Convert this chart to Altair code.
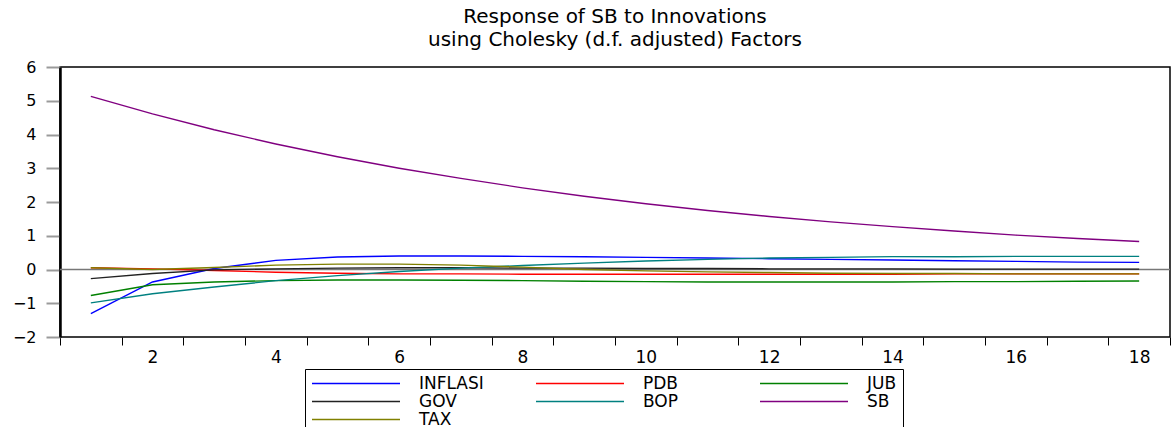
import altair as alt
import pandas as pd

# Impulse responses of SB over 18 periods, one list per shock
periods = list(range(1, 19))
inflasi = [-1.31, -0.37, 0.03, 0.27, 0.37, 0.40, 0.40, 0.39, 0.38, 0.36, 0.34, 0.32, 0.30, 0.28, 0.26, 0.24, 0.22, 0.21]
pdb = [0.05, 0.02, -0.03, -0.08, -0.11, -0.13, -0.13, -0.14, -0.14, -0.14, -0.14, -0.14, -0.14, -0.14, -0.13, -0.13, -0.13, -0.13]
jub = [-0.77, -0.45, -0.37, -0.33, -0.31, -0.31, -0.32, -0.33, -0.35, -0.36, -0.37, -0.37, -0.37, -0.37, -0.36, -0.36, -0.35, -0.34]
gov = [-0.27, -0.12, -0.01, 0.02, 0.04, 0.05, 0.05, 0.04, 0.04, 0.03, 0.03, 0.02, 0.02, 0.02, 0.01, 0.01, 0.01, 0.01]
bop = [-0.99, -0.72, -0.52, -0.33, -0.18, -0.06, 0.04, 0.12, 0.19, 0.25, 0.30, 0.34, 0.36, 0.38, 0.38, 0.39, 0.39, 0.39]
sb = [5.13, 4.61, 4.14, 3.72, 3.34, 3.00, 2.70, 2.42, 2.17, 1.95, 1.75, 1.57, 1.41, 1.27, 1.14, 1.02, 0.92, 0.83]
tax = [0.05, 0.00, 0.06, 0.13, 0.16, 0.16, 0.13, 0.07, 0.00, -0.04, -0.07, -0.09, -0.11, -0.12, -0.12, -0.13, -0.13, -0.13]

series = {
    "INFLASI": (inflasi, "#0000FF"),
    "PDB": (pdb, "#FF0000"),
    "JUB": (jub, "#008000"),
    "GOV": (gov, "#222222"),
    "BOP": (bop, "#008080"),
    "SB": (sb, "#800080"),
    "TAX": (tax, "#808000"),
}
# domain order chosen so the three-column legend reads
# INFLASI PDB JUB / GOV BOP SB / TAX row by row
legend_order = ["INFLASI", "GOV", "SB", "PDB", "BOP", "TAX", "JUB"]

y_ticks = [-2, -1, 0, 1, 2, 3, 4, 5, 6]
x_ticks = [k + 0.5 for k in range(0, 19)] + list(range(2, 19, 2))

FONT = "DejaVu Sans"

rows = []
for name, (vals, _) in series.items():
    for p, v in zip(periods, vals):
        rows.append({"period": p, "response": v, "shock": name})
df = pd.DataFrame(rows)

x_scale = alt.Scale(domain=[0.5, 18.5], nice=False, zero=False)
y_scale = alt.Scale(domain=[-2, 6], nice=False, zero=False)

x_axis = alt.Axis(
    values=x_ticks,
    labelExpr="datum.value % 2 === 0 ? format(datum.value, 'd') : ''",
    tickOpacity={"condition": {"test": "datum.value % 1 === 0", "value": 0}, "value": 1},
    tickColor="black",
    tickSize=8,
    labelOverlap=False,
    labelFlush=False,
    labelPadding=4,
    labelFontSize=17,
    labelFont=FONT,
    labelColor="black",
    domain=False,
    grid=False,
    title=None,
)

y_axis = alt.Axis(
    values=y_ticks,
    tickColor="#9a9a9a",
    tickSize=14,
    tickWidth=2,
    labelPadding=10,
    labelFontSize=16,
    labelFont=FONT,
    labelColor="black",
    domainColor="black",
    domainWidth=2.5,
    grid=False,
    title=None,
)

zero_line = alt.Chart(pd.DataFrame({"level": [0]})).mark_rule(
    color="#777777", strokeWidth=1.5
).encode(y=alt.Y("level:Q", scale=y_scale, axis=y_axis))

lines = alt.Chart(df).mark_line(strokeWidth=1.4).encode(
    x=alt.X("period:Q", scale=x_scale, axis=x_axis),
    y=alt.Y("response:Q", scale=y_scale, axis=y_axis),
    color=alt.Color(
        "shock:N",
        scale=alt.Scale(domain=legend_order, range=[series[n][1] for n in legend_order]),
        sort=legend_order,
        legend=alt.Legend(
            orient="none",
            legendX=245,
            legendY=302,
            columns=3,
            title=None,
            symbolType="stroke",
            symbolSize=7744,
            symbolStrokeWidth=1.6,
            clipHeight=17,
            labelFont=FONT,
            labelFontSize=17,
            labelColor="black",
            labelOffset=18,
            labelLimit=300,
            columnPadding=51,
            rowPadding=0,
            gridAlign="all",
            padding=6,
            strokeColor="black",
            fillColor="white",
        ),
    ),
    order=alt.Order("period:Q"),
)

chart = alt.layer(zero_line, lines).properties(
    width=1110,
    height=270,
    background="white",
    title=alt.TitleParams(
        ["Response of SB to Innovations", "using Cholesky (d.f. adjusted) Factors"],
        font=FONT,
        fontSize=20,
        fontWeight="normal",
        color="black",
        anchor="middle",
        lineHeight=23,
        offset=9,
    ),
    autosize=alt.AutoSizeParams(type="none"),
    padding={"left": 60, "top": 67, "right": 1, "bottom": 90},
).configure_view(
    stroke="black", strokeWidth=1.5
)

chart.save("out.html", embed_options={"renderer": "svg", "actions": False})
